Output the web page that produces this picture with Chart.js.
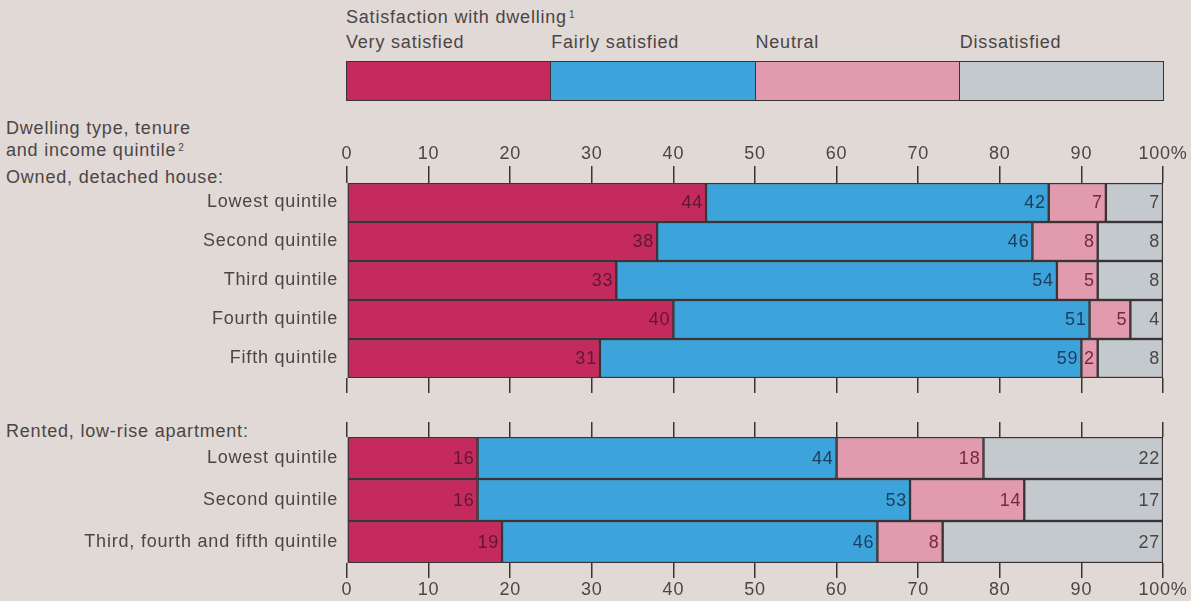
<!DOCTYPE html>
<html>
<head>
<meta charset="utf-8">
<script src="https://cdn.jsdelivr.net/npm/chart.js@4.4.0/dist/chart.umd.min.js"></script>
<style>
  html, body { margin: 0; padding: 0; background: #e0d9d5; }
  #page {
    position: relative; width: 1191px; height: 601px; overflow: hidden;
    font-family: "Liberation Sans", Arial, sans-serif; font-size: 18px;
    letter-spacing: 0.8px; color: #4b4545;
  }
  .txt { position: absolute; line-height: 20px; white-space: nowrap; }
  .txt sup { font-size: 10px; vertical-align: 5px; margin-left: 2px; }
  .keyBox { position: absolute; top: 61px; height: 40px; box-sizing: border-box; border: 1.5px solid #3a3436; }
  canvas { position: absolute; left: 0; }
</style>
</head>
<body>
<div id="page">
  <div class="txt" style="left:346px; top:5px;">Satisfaction with dwelling<sup>1</sup></div>
  <div class="txt" style="left:6px; top:118px;">Dwelling type, tenure</div>
  <div class="txt" style="left:6px; top:138px;">and income quintile<sup>2</sup></div>
  <div class="txt" style="left:6px; top:167px;">Owned, detached house:</div>
  <div class="txt" style="left:6px; top:421px;">Rented, low-rise apartment:</div>
  <div style="position:absolute; left:0; top:140px; width:1191px; height:253px;"><canvas id="ownedChart"></canvas></div>
  <div style="position:absolute; left:0; top:410px; width:1191px; height:191px;"><canvas id="rentedChart"></canvas></div>
</div>
<script>
// Satisfaction levels (key) and their colours
var satisfactionLevels = ['Very satisfied', 'Fairly satisfied', 'Neutral', 'Dissatisfied'];
var barColours = ['#c42a5e', '#3ca4da', '#e29aae', '#c3c9cc'];
var numberColours = ['#5e1a30', '#1d3d5c', '#7a2640', '#4a4646'];

// Owned, detached house
var ownedRows = ['Lowest quintile', 'Second quintile', 'Third quintile', 'Fourth quintile', 'Fifth quintile'];
var ownedVery = [44, 38, 33, 40, 31];
var ownedFairly = [42, 46, 54, 51, 59];
var ownedNeutral = [7, 8, 5, 5, 2];
var ownedDissatisfied = [7, 8, 8, 4, 8];

// Rented, low-rise apartment
var rentedRows = ['Lowest quintile', 'Second quintile', 'Third, fourth and fifth quintile'];
var rentedVery = [16, 16, 19];
var rentedFairly = [44, 53, 46];
var rentedNeutral = [18, 14, 8];
var rentedDissatisfied = [22, 17, 27];

// x axis tick labels
var tickLabels = ['0', '10', '20', '30', '40', '50', '60', '70', '80', '90', '100%'];

var fontFamily = '"Liberation Sans", Arial, sans-serif';
var textColour = '#4b4545';
var lineColour = '#3a3436';

// key bar: four equal boxes above the chart
(function() {
    var page = document.getElementById('page');
    var left = 346, width = 817 / satisfactionLevels.length;
    satisfactionLevels.forEach(function(name, i) {
        var box = document.createElement('div');
        box.className = 'keyBox';
        box.style.left = (left + i * width) + 'px';
        box.style.width = (width + 1) + 'px';
        box.style.background = barColours[i];
        page.appendChild(box);

        var label = document.createElement('div');
        label.className = 'txt';
        label.style.left = (left + i * width + (i ? 1 : 0)) + 'px';
        label.style.top = '32px';
        label.textContent = name;
        page.appendChild(label);
    });
})();

// numbers at the right end of each segment
var valueLabels = {
    id: 'valueLabels',
    afterDatasetsDraw: function(chart) {
        var ctx = chart.ctx;
        ctx.save();
        ctx.font = '18px ' + fontFamily;
        ctx.textAlign = 'right';
        ctx.textBaseline = 'middle';
        chart.data.datasets.forEach(function(ds, i) {
            ctx.fillStyle = numberColours[i];
            chart.getDatasetMeta(i).data.forEach(function(bar, j) {
                ctx.fillText(ds.data[j], bar.x - 3, bar.y + 1);
            });
        });
        ctx.restore();
    }
};

var spacing = {
    id: 'spacing',
    beforeDraw: function(chart) { chart.ctx.letterSpacing = '0.8px'; }
};

function makeChart(id, rows, series, labelsOnTop, topHeight, bottomHeight, topTick, bottomTick) {
    var ctx = document.getElementById(id).getContext('2d');

    var datasets = series.map(function(values, i) {
        return {
            label: satisfactionLevels[i],
            data: values,
            backgroundColor: barColours[i],
            borderColor: lineColour,
            borderWidth: 1.5,
            borderSkipped: false,
            barPercentage: 1,
            categoryPercentage: 1
        };
    });

    var xAxis = function(position, showLabels, tickLength, height) {
        return {
            type: 'linear',
            position: position,
            stacked: true,
            min: 0,
            max: 100,
            border: { display: false },
            grid: { drawOnChartArea: false, drawTicks: true, tickLength: tickLength, color: lineColour, lineWidth: 1.5 },
            ticks: {
                display: showLabels,
                stepSize: 10,
                padding: 1,
                color: textColour,
                font: { family: fontFamily, size: 18 },
                maxRotation: 0,
                callback: function(value, index) { return tickLabels[index]; }
            },
            afterFit: function(scale) { scale.height = height; }
        };
    };

    return new Chart(ctx, {
        type: 'bar',
        data: { labels: rows, datasets: datasets },
        options: {
            indexAxis: 'y',
            responsive: true,
            maintainAspectRatio: false,
            animation: false,
            layout: { padding: { left: 0, right: 28, top: 0, bottom: 0 } },
            scales: {
                x: xAxis(labelsOnTop ? 'top' : 'bottom', true, labelsOnTop ? topTick : bottomTick, labelsOnTop ? topHeight : bottomHeight),
                xMarks: xAxis(labelsOnTop ? 'bottom' : 'top', false, labelsOnTop ? bottomTick : topTick, labelsOnTop ? bottomHeight : topHeight),
                y: {
                    stacked: true,
                    grid: { display: false },
                    border: { display: false },
                    ticks: {
                        color: textColour,
                        padding: 1,
                        font: { family: fontFamily, size: 18 }
                    },
                    afterFit: function(scale) { scale.width = 347; }
                }
            },
            plugins: {
                legend: { display: false },
                tooltip: { enabled: false }
            }
        },
        plugins: [spacing, valueLabels]
    });
}

makeChart('ownedChart', ownedRows, [ownedVery, ownedFairly, ownedNeutral, ownedDissatisfied], true, 43, 15, 17, 15);
makeChart('rentedChart', rentedRows, [rentedVery, rentedFairly, rentedNeutral, rentedDissatisfied], false, 27, 38, 15, 15);
</script>
</body>
</html>
